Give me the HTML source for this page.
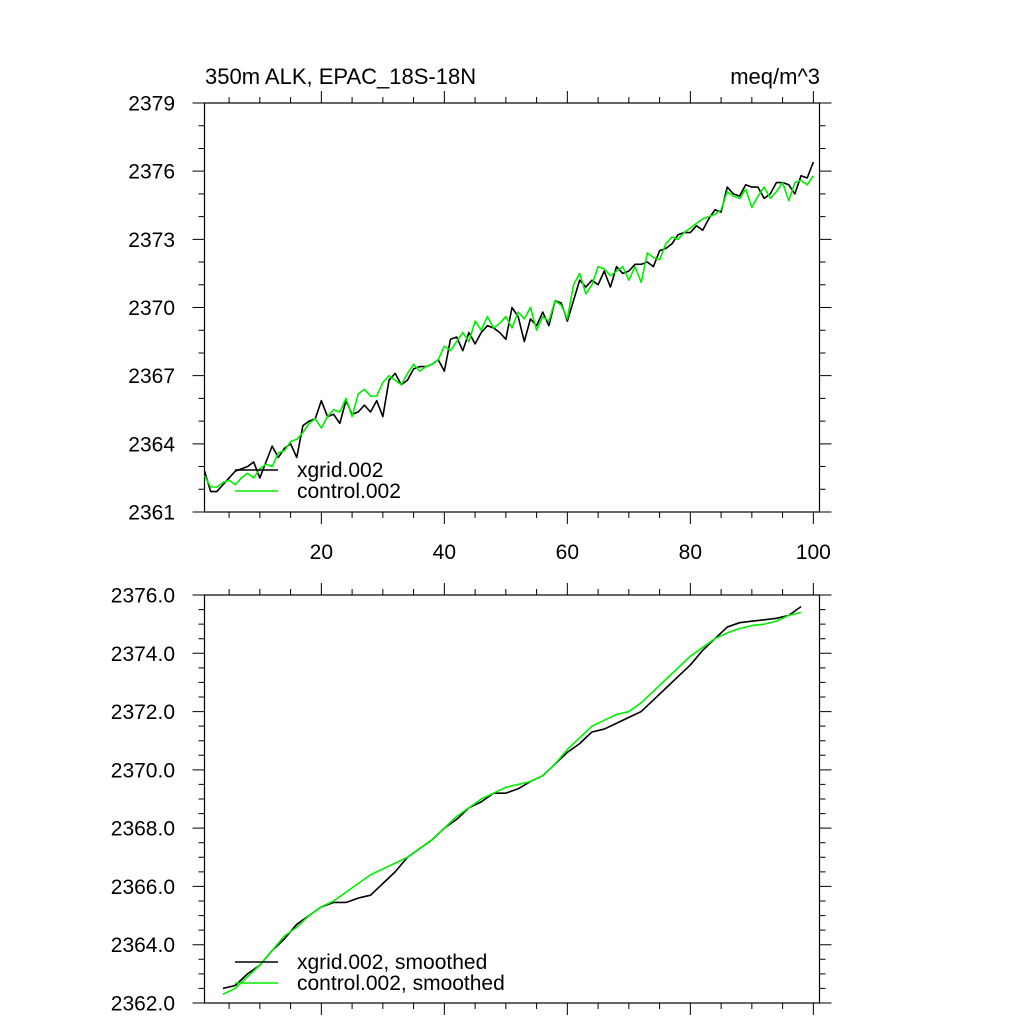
<!DOCTYPE html>
<html><head><meta charset="utf-8"><style>
body{margin:0;background:#fff}
svg{display:block}
text{font-family:"Liberation Sans",sans-serif;fill:#000}
</style></head><body>
<svg id="chart" width="1024" height="1024" viewBox="0 0 1024 1024" xmlns="http://www.w3.org/2000/svg">
<text x="205" y="84" font-size="22">350m ALK, EPAC_18S-18N</text>
<text x="820" y="84" font-size="22" text-anchor="end">meq/m^3</text>
</svg>
<script>
const xgrid = [2362.8,2361.9,2361.9,2362.2,2362.5,2362.8,2362.9,2363.0,2363.2,2362.5,2363.2,2363.9,2363.4,2363.8,2364.0,2363.4,2364.8,2365.0,2365.1,2365.9,2365.2,2365.3,2364.9,2365.9,2365.3,2365.4,2365.7,2365.4,2365.9,2365.2,2366.8,2367.1,2366.6,2366.8,2367.3,2367.4,2367.4,2367.5,2367.7,2367.2,2368.6,2368.7,2368.1,2368.9,2368.4,2368.9,2369.2,2369.1,2368.9,2368.6,2370.0,2369.6,2368.5,2369.5,2369.2,2369.8,2369.2,2370.3,2370.2,2369.4,2370.3,2371.2,2370.9,2371.2,2371.0,2371.6,2370.9,2371.8,2371.5,2371.6,2371.9,2371.9,2372.0,2371.8,2372.5,2372.6,2372.8,2373.2,2373.3,2373.3,2373.6,2373.4,2373.9,2374.3,2374.2,2375.3,2375.0,2374.9,2375.4,2375.3,2375.3,2374.8,2375.0,2375.5,2375.5,2375.4,2375.0,2375.8,2375.7,2376.4];
const control = [2362.6,2362.1,2362.1,2362.3,2362.4,2362.2,2362.5,2362.7,2362.5,2362.9,2363.1,2363.0,2363.6,2363.7,2364.1,2364.2,2364.5,2364.9,2365.1,2364.7,2365.2,2365.5,2365.4,2366.0,2365.2,2366.2,2366.4,2366.1,2366.1,2366.7,2367.0,2366.8,2366.6,2367.1,2367.5,2367.2,2367.4,2367.5,2367.7,2368.3,2368.1,2368.5,2368.9,2368.5,2369.4,2369.0,2369.6,2369.1,2369.3,2369.6,2369.1,2369.8,2369.5,2370.0,2369.0,2369.6,2369.4,2370.3,2370.1,2369.5,2371.0,2371.5,2370.6,2371.0,2371.8,2371.7,2371.4,2371.6,2371.8,2371.2,2371.8,2371.1,2372.4,2372.2,2372.1,2372.8,2373.1,2373.0,2373.3,2373.5,2373.7,2373.9,2374.0,2374.1,2374.3,2375.1,2374.9,2374.8,2375.2,2374.4,2374.9,2375.3,2374.8,2375.1,2375.5,2374.7,2375.5,2375.6,2375.4,2375.8];
const smoothX = [4,6,8,10,12,14,16,18,20,22,24,26,28,30,32,34,36,38,40,42,44,46,48,50,52,54,56,58,60,62,64,66,68,70,72,74,76,78,80,82,84,86,88,90,92,94,96,98];
const xgridSmooth = [2362.5,2362.6,2363.0,2363.3,2363.8,2364.2,2364.7,2365.0,2365.3,2365.45,2365.45,2365.6,2365.7,2366.1,2366.5,2367.0,2367.3,2367.6,2368.0,2368.3,2368.7,2368.9,2369.2,2369.2,2369.35,2369.6,2369.8,2370.2,2370.6,2370.9,2371.3,2371.4,2371.6,2371.8,2372.0,2372.4,2372.8,2373.2,2373.6,2374.1,2374.5,2374.9,2375.05,2375.1,2375.15,2375.2,2375.3,2375.6];
const controlSmooth = [2362.3,2362.5,2362.9,2363.3,2363.8,2364.3,2364.6,2365.0,2365.3,2365.5,2365.8,2366.1,2366.4,2366.6,2366.8,2367.0,2367.3,2367.6,2368.0,2368.4,2368.7,2369.0,2369.2,2369.4,2369.5,2369.6,2369.8,2370.2,2370.7,2371.1,2371.5,2371.7,2371.9,2372.0,2372.3,2372.7,2373.1,2373.5,2373.9,2374.2,2374.5,2374.7,2374.85,2374.95,2375.0,2375.1,2375.3,2375.4];
const topYTicks = [2361,2364,2367,2370,2373,2376,2379];
const botYTicks = [2362,2364,2366,2368,2370,2372,2374,2376];
const xTicks = [20,40,60,80,100];

const svg = document.getElementById('chart');
const NS = 'http://www.w3.org/2000/svg';
const L = 204.5, R = 819.5;
const xs = v => L + (v - 1) * (R - L) / 100;
function mk(tag, attrs, parent) {
  const e = document.createElementNS(NS, tag);
  for (const k in attrs) e.setAttribute(k, attrs[k]);
  (parent || svg).appendChild(e);
  return e;
}
function panel(name, pTop, pBot, y0, y1, yTicks, yMinor, dec, showX) {
  const g = mk('g', {});
  
  
  const ys = v => pBot - (v - y0) * (pBot - pTop) / (y1 - y0);
  const frame = mk('rect', {x: L, y: pTop, width: R - L, height: pBot - pTop, fill: 'none', stroke: '#000', 'stroke-width': 1.2}, g);
  
  
  let p = '';
  for (let v = y0; v <= y1 + 1e-9; v += yMinor) {
    const y = ys(v);
    const major = yTicks.some(t => Math.abs(t - v) < 1e-6);
    const len = major ? 12 : 6;
    p += `M${L} ${y}H${L - len}M${R} ${y}H${R + len}`;
  }
  for (let v = 5; v <= 100; v += 5) {
    const x = xs(v);
    const len = v % 20 === 0 ? 12 : 6;
    p += `M${x} ${pTop}V${pTop - len}M${x} ${pBot}V${pBot + len}`;
  }
  const ticks = mk('path', {d: p, stroke: '#000', 'stroke-width': 1, fill: 'none'}, g);
  
  
  yTicks.forEach(t => {
    const tx = mk('text', {x: 175, y: ys(t) + 7.5, 'font-size': 21, 'text-anchor': 'end'}, g);
    tx.textContent = dec ? t.toFixed(1) : t;
    
    
  });
  if (showX) xTicks.forEach(t => {
    const tx = mk('text', {x: xs(t), y: pBot + 47, 'font-size': 21, 'text-anchor': 'middle'}, g);
    tx.textContent = t;
    
    
  });
  return {g, ys};
}
function line(g, ys, xv, yv, color, name) {
  const d = yv.map((v, i) => (i ? 'L' : 'M') + xs(xv[i]).toFixed(2) + ' ' + ys(v).toFixed(2)).join('');
  const e = mk('path', {d, stroke: color, 'stroke-width': 1.6, fill: 'none', 'stroke-linejoin': 'round'}, g);
  
  
}
function legend(g, y, color, label) {
  const l = mk('line', {x1: 235, x2: 278, y1: y, y2: y, stroke: color, 'stroke-width': 1.6}, g);
  
  
  const t = mk('text', {x: 297, y: y + 7, 'font-size': 21}, g);
  t.textContent = label;
  
  
}
const topPanel = panel('top-panel', 103, 512, 2361, 2379, topYTicks, 1, false, true);
line(topPanel.g, topPanel.ys, xgrid.map((_, i) => i + 1), xgrid, '#000', 'xgrid-line');
line(topPanel.g, topPanel.ys, control.map((_, i) => i + 1), control, '#00ee00', 'control-line');
legend(topPanel.g, 470, '#000', 'xgrid.002');
legend(topPanel.g, 491, '#00ee00', 'control.002');
const botPanel = panel('bottom-panel', 595, 1003, 2362, 2376, botYTicks, 0.5, true, false);
line(botPanel.g, botPanel.ys, smoothX, xgridSmooth, '#000', 'xgrid-smoothed-line');
line(botPanel.g, botPanel.ys, smoothX, controlSmooth, '#00ee00', 'control-smoothed-line');
legend(botPanel.g, 962, '#000', 'xgrid.002, smoothed');
legend(botPanel.g, 983, '#00ee00', 'control.002, smoothed');
</script>
</body></html>
